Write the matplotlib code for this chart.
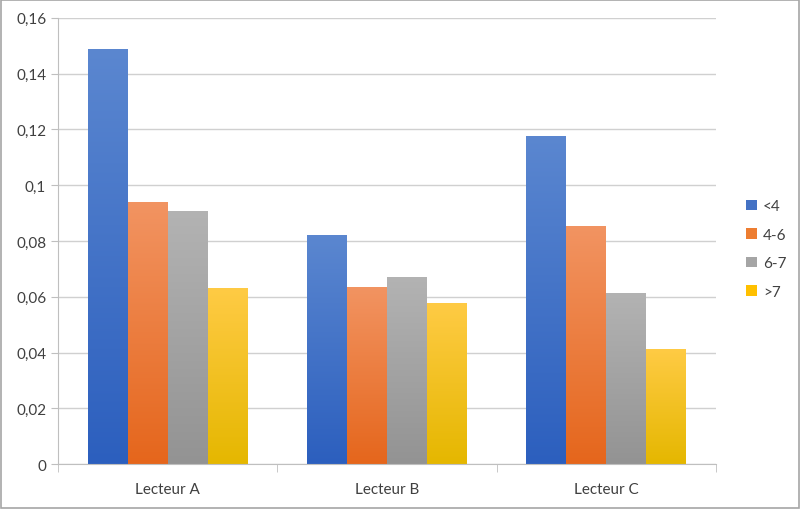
import matplotlib.pyplot as plt
import numpy as np
from matplotlib.colors import LinearSegmentedColormap
from matplotlib.ticker import FuncFormatter, MultipleLocator

plt.rcParams["font.family"] = ["Lato", "DejaVu Sans"]

readers = ["Lecteur A", "Lecteur B", "Lecteur C"]
groups = ["<4", "4-6", "6-7", ">7"]
lt4 = [0.149, 0.0822, 0.1177]
r4_6 = [0.094, 0.0635, 0.0855]
r6_7 = [0.0908, 0.0671, 0.0614]
gt7 = [0.0632, 0.0578, 0.0413]
series = [lt4, r4_6, r6_7, gt7]

# (top colour, bottom colour, legend colour)
colours = [
    ("#5b87d0", "#2c5fbe", "#4472c4"),
    ("#f29462", "#e5661c", "#ed7d31"),
    ("#b3b3b3", "#939393", "#a5a5a5"),
    ("#ffcb45", "#e5b700", "#ffc000"),
]

fig = plt.figure(figsize=(8, 5.1), dpi=100)
ax = fig.add_axes([0.0725, 0.088, 0.8225, 0.875])

x = np.arange(len(readers))
w = 0.182
grad = np.linspace(1, 0, 256).reshape(-1, 1)
for i, (vals, (top, bot, leg)) in enumerate(zip(series, colours)):
    cmap = LinearSegmentedColormap.from_list("g%d" % i, [bot, top])
    bars = ax.bar(x + (i - 1.5) * w, vals, w, color="none", edgecolor="none")
    for b in bars:
        bx, by = b.get_x(), b.get_y()
        im = ax.imshow(grad, cmap=cmap, aspect="auto", vmin=0, vmax=1,
                       extent=[bx, bx + b.get_width(), by, by + b.get_height()],
                       zorder=2)
        im.set_clip_path(b)
    ax.bar([0], [0], color=leg, label=groups[i])

ax.set_xlim(-0.5, 2.5)
ax.set_ylim(0, 0.16)
ax.yaxis.set_major_locator(MultipleLocator(0.02))
ax.yaxis.set_major_formatter(FuncFormatter(lambda v, p: ("%g" % round(v, 4)).replace(".", ",")))
ax.set_xticks(x)
ax.set_xticklabels(readers)
ax.set_xticks([-0.5, 0.5, 1.5, 2.5], minor=True)
ax.tick_params(axis="x", which="major", length=0, pad=13)
ax.tick_params(axis="x", which="minor", length=6, color="#bfbfbf")
ax.tick_params(axis="y", length=5, color="#bfbfbf")
ax.tick_params(labelsize=11, labelcolor="#404040")
ax.grid(axis="y", color="#d0d0d0", linewidth=1)
ax.set_axisbelow(True)
for s in ["top", "right"]:
    ax.spines[s].set_visible(False)
ax.spines["left"].set_color("#bfbfbf")
ax.spines["bottom"].set_color("#bfbfbf")

ax.legend(loc="center left", bbox_to_anchor=(1.025, 0.482), frameon=False,
          handlelength=0.7, handleheight=0.7, labelspacing=0.95, handletextpad=0.4,
          fontsize=11, labelcolor="#404040")

fig.patches.append(plt.Rectangle((0.001, 0.001), 0.998, 0.997, transform=fig.transFigure,
                                 fill=False, edgecolor="#a6a6a6", linewidth=1.2))
fig.savefig("out.png", dpi=100)
